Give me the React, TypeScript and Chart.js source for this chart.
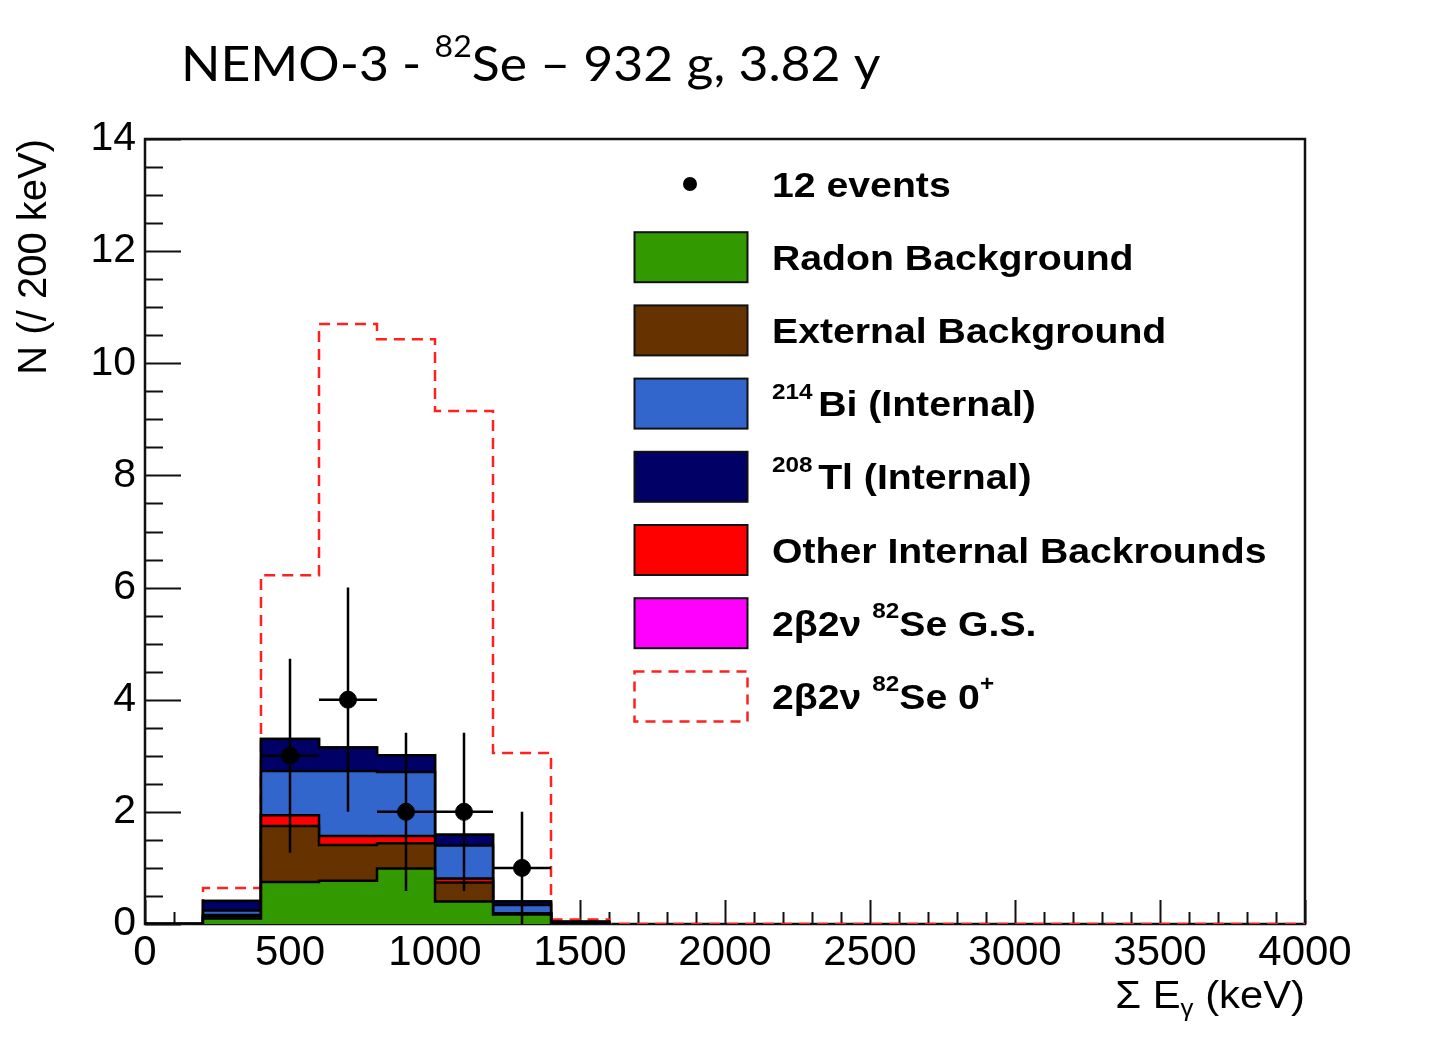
import { useEffect, useRef } from "react";
import { Chart, registerables } from "chart.js";
import type { Plugin } from "chart.js";

Chart.register(...registerables);

const SANS = '"Liberation Sans", Arial, Helvetica, sans-serif';
const TITLE_FONT = 'Lato, "Open Sans", sans-serif';

// lower edges of the 200 keV bins
const binLow = [0, 200, 400, 600, 800, 1000, 1200, 1400, 1600, 1800, 2000, 2200, 2400, 2600, 2800, 3000, 3200, 3400, 3600, 3800];
const xMax = 4000;

// stacked backgrounds, bottom to top (counts per 200 keV)
const radon = [0, 0.1, 0.75, 0.77, 0.99, 0.4, 0.17, 0.02, 0, 0, 0, 0, 0, 0, 0, 0, 0, 0, 0, 0];
const external = [0, 0.04, 1.0, 0.64, 0.45, 0.34, 0.01, 0.005, 0, 0, 0, 0, 0, 0, 0, 0, 0, 0, 0, 0];
const otherInternal = [0, 0.02, 0.19, 0.16, 0.13, 0.07, 0.01, 0, 0, 0, 0, 0, 0, 0, 0, 0, 0, 0, 0, 0];
const bi214 = [0, 0.08, 0.79, 1.16, 1.14, 0.59, 0.15, 0.01, 0, 0, 0, 0, 0, 0, 0, 0, 0, 0, 0, 0];
const tl208 = [0, 0.17, 0.57, 0.42, 0.3, 0.19, 0.06, 0.005, 0, 0, 0, 0, 0, 0, 0, 0, 0, 0, 0, 0];
const se82GS = [0, 0, 0, 0, 0, 0, 0, 0, 0, 0, 0, 0, 0, 0, 0, 0, 0, 0, 0, 0];

// 2b2v to 0+ excited state (dashed, not stacked)
const se82Exc = [0, 0.64, 6.22, 10.7, 10.43, 9.15, 3.05, 0.08, 0, 0, 0, 0, 0, 0, 0, 0, 0, 0, 0, 0];

// data
const eventE = [500, 700, 900, 1100, 1300];
const eventN = [3, 4, 2, 2, 1];
const eventErr = [1.73, 2.0, 1.41, 1.41, 1.0];
const eventHalfBin = 100;

const xTickStep = 500;
const yTickStep = 2;

type Run = { t: string; sup?: boolean; sub?: boolean; gap?: number };

const layers = [
  { label: "Radon Background", vals: radon, color: "#339900" },
  { label: "External Background", vals: external, color: "#663300" },
  { label: "Other Internal Backrounds", vals: otherInternal, color: "#ff0000" },
  { label: "214Bi (Internal)", vals: bi214, color: "#3366cc" },
  { label: "208Tl (Internal)", vals: tl208, color: "#000066" },
  { label: "2b2v 82Se G.S.", vals: se82GS, color: "#ff00ff" },
];

const stepPoints = (vals: number[]) => [
  ...binLow.map((x, i) => ({ x, y: vals[i] })),
  { x: xMax, y: vals[vals.length - 1] },
];

const legendRows: { swatch: string; runs: Run[] }[] = [
  { swatch: "dot", runs: [{ t: "12 events" }] },
  { swatch: "#339900", runs: [{ t: "Radon Background" }] },
  { swatch: "#663300", runs: [{ t: "External Background" }] },
  { swatch: "#3366cc", runs: [{ t: "214", sup: true, gap: 5 }, { t: "Bi (Internal)" }] },
  { swatch: "#000066", runs: [{ t: "208", sup: true, gap: 5 }, { t: "Tl (Internal)" }] },
  { swatch: "#ff0000", runs: [{ t: "Other Internal Backrounds" }] },
  { swatch: "#ff00ff", runs: [{ t: "2β2ν " }, { t: "82", sup: true }, { t: "Se G.S." }] },
  { swatch: "dash", runs: [{ t: "2β2ν " }, { t: "82", sup: true }, { t: "Se 0" }, { t: "+", sup: true }] },
];

function drawRuns(
  ctx: CanvasRenderingContext2D,
  x: number,
  y: number,
  runs: Run[],
  font: (size: number) => string,
  size: number,
  stretch: number,
  align: "left" | "right" = "left"
) {
  const supSize = size * 0.62;
  const widthOf = (r: Run) => {
    ctx.font = font(r.sup || r.sub ? supSize : size);
    return ctx.measureText(r.t).width + (r.gap || 0);
  };
  const total = runs.reduce((s, r) => s + widthOf(r), 0);
  ctx.save();
  ctx.translate(x, y);
  ctx.scale(stretch, 1);
  let cx = align === "right" ? -total : 0;
  ctx.textAlign = "left";
  ctx.textBaseline = "alphabetic";
  for (const r of runs) {
    ctx.font = font(r.sup || r.sub ? supSize : size);
    const dy = r.sup ? -size * 0.5 : r.sub ? size * 0.2 : 0;
    ctx.fillText(r.t, cx, dy);
    cx += widthOf(r);
  }
  ctx.restore();
  return total * stretch;
}

const rootStyle: Plugin<"line"> = {
  id: "rootStyle",
  beforeDatasetsDraw(chart) {
    const { ctx, chartArea: a, scales } = chart;
    const xs = scales.x;
    const ys = scales.y;
    ctx.save();
    ctx.strokeStyle = "#111";
    ctx.lineWidth = 2.5;
    ctx.strokeRect(a.left, a.top, a.right - a.left, a.bottom - a.top);
    ctx.lineWidth = 2;
    ctx.beginPath();
    for (let v = 0; v <= xMax; v += xTickStep / 5) {
      const px = Math.round(xs.getPixelForValue(v)) + 0.5;
      const len = v % xTickStep === 0 ? 24 : 12;
      ctx.moveTo(px, a.bottom);
      ctx.lineTo(px, a.bottom - len);
    }
    for (let v = 0; v <= (ys.max as number); v += yTickStep / 4) {
      const py = Math.round(ys.getPixelForValue(v)) + 0.5;
      const len = v % yTickStep === 0 ? 36 : 18;
      ctx.moveTo(a.left, py);
      ctx.lineTo(a.left + len, py);
    }
    ctx.stroke();
    ctx.restore();
  },
  afterDatasetsDraw(chart) {
    const { ctx, scales } = chart;
    const xs = scales.x;
    const ys = scales.y;
    ctx.save();
    ctx.strokeStyle = "#000";
    ctx.lineWidth = 2.5;
    ctx.beginPath();
    eventE.forEach((e, i) => {
      const px = xs.getPixelForValue(e);
      const py = ys.getPixelForValue(eventN[i]);
      ctx.moveTo(px, ys.getPixelForValue(Math.max(0, eventN[i] - eventErr[i])));
      ctx.lineTo(px, ys.getPixelForValue(eventN[i] + eventErr[i]));
      ctx.moveTo(xs.getPixelForValue(e - eventHalfBin), py);
      ctx.lineTo(xs.getPixelForValue(e + eventHalfBin), py);
    });
    ctx.stroke();
    ctx.restore();
  },
  afterDraw(chart) {
    const { ctx, chartArea: a } = chart;
    ctx.save();
    ctx.fillStyle = "#000";

    // title
    const titleRuns: Run[] = [{ t: "NEMO-3 - " }, { t: "82", sup: true }, { t: "Se – 932 g, 3.82 y" }];
    const tf = (s: number) => `${s}px ${TITLE_FONT}`;
    drawRuns(ctx, 181, 81, titleRuns, tf, 49, 1.055);

    // axis titles
    const af = (s: number) => `${s}px ${SANS}`;
    drawRuns(
      ctx,
      a.right,
      1008,
      [{ t: "Σ E" }, { t: "γ", sub: true }, { t: " (keV)" }],
      af,
      38,
      1.1,
      "right"
    );
    ctx.save();
    ctx.translate(46, a.top);
    ctx.rotate(-Math.PI / 2);
    ctx.font = af(40);
    ctx.textAlign = "right";
    ctx.textBaseline = "alphabetic";
    ctx.fillText("N (/ 200 keV)", 0, 0);
    ctx.restore();

    // legend
    const lf = (s: number) => `bold ${s}px ${SANS}`;
    legendRows.forEach((row, i) => {
      const cy = 184 + i * 73.2;
      if (row.swatch === "dot") {
        ctx.beginPath();
        ctx.arc(690, cy, 7, 0, Math.PI * 2);
        ctx.fill();
      } else if (row.swatch === "dash") {
        ctx.save();
        ctx.strokeStyle = "#ff2020";
        ctx.lineWidth = 2.5;
        ctx.setLineDash([10, 7]);
        ctx.strokeRect(634.5, cy - 25, 113, 50);
        ctx.restore();
      } else {
        ctx.fillStyle = row.swatch;
        ctx.fillRect(634, cy - 25, 113, 50);
        ctx.strokeStyle = "#111";
        ctx.lineWidth = 2;
        ctx.strokeRect(634.5, cy - 25, 113, 50);
        ctx.fillStyle = "#000";
      }
      drawRuns(ctx, 772, cy + 12.5, row.runs, lf, 35, 1.12);
    });
    ctx.restore();
  },
};

export default function App() {
  const chartRef = useRef<HTMLCanvasElement>(null);
  const chartInstanceRef = useRef<Chart | null>(null);

  useEffect(() => {
    if (!chartRef.current) return;
    document.body.style.margin = "0";

    if (chartInstanceRef.current) {
      chartInstanceRef.current.destroy();
    }

    let running = binLow.map(() => 0);
    const stackSets = layers.map((layer, k) => {
      running = running.map((s, i) => s + layer.vals[i]);
      return {
        label: layer.label,
        data: stepPoints(running),
        borderColor: "#000",
        borderWidth: 2.5,
        backgroundColor: layer.color,
        fill: "origin" as const,
        stepped: "before" as const,
        pointRadius: 0,
        order: k + 1,
        segment: {
          borderColor: (c: any) =>
            c.p0.parsed.y === 0 && c.p1.parsed.y === 0 ? "rgba(0,0,0,0)" : undefined,
        },
      };
    });

    const ctx = chartRef.current.getContext("2d");
    if (ctx) {
      chartInstanceRef.current = new Chart(ctx, {
        type: "line",
        data: {
          datasets: [
            {
              label: "12 events",
              data: eventE.map((x, i) => ({ x, y: eventN[i] })),
              showLine: false,
              pointRadius: 8.5,
              pointBackgroundColor: "#000",
              pointBorderColor: "#000",
              order: 0,
            },
            ...stackSets,
            {
              label: "2b2v 82Se 0+",
              data: stepPoints(se82Exc),
              borderColor: "#ff2020",
              borderWidth: 2.5,
              borderDash: [11, 7],
              fill: false,
              stepped: "before",
              pointRadius: 0,
              order: 20,
            },
          ] as any,
        },
        plugins: [rootStyle],
        options: {
          animation: false,
          responsive: false,
          layout: { padding: { top: 139, right: 149, left: 0, bottom: 0 } },
          plugins: {
            legend: { display: false },
            tooltip: { enabled: false },
          },
          scales: {
            x: {
              type: "linear",
              min: 0,
              max: xMax,
              afterFit: (s) => {
                s.height = 116;
              },
              grid: { display: false, drawTicks: false },
              border: { display: false },
              ticks: {
                stepSize: xTickStep,
                padding: 4,
                color: "#000",
                font: { family: SANS, size: 42 },
                maxRotation: 0,
                callback: (v) => String(v),
              },
            },
            y: {
              type: "linear",
              min: 0,
              max: 14,
              afterFit: (s) => {
                s.width = 145;
              },
              grid: { display: false, drawTicks: false },
              border: { display: false },
              ticks: {
                stepSize: yTickStep,
                padding: 9,
                color: "#000",
                font: { family: SANS, size: 41 },
                callback: (v) => String(v),
              },
            },
          },
        },
      });
    }

    return () => {
      if (chartInstanceRef.current) {
        chartInstanceRef.current.destroy();
        chartInstanceRef.current = null;
      }
    };
  }, []);

  return (
    <div style={{ width: 1454, height: 1040, background: "#fff" }}>
      <canvas ref={chartRef} width={1454} height={1040} />
    </div>
  );
}
